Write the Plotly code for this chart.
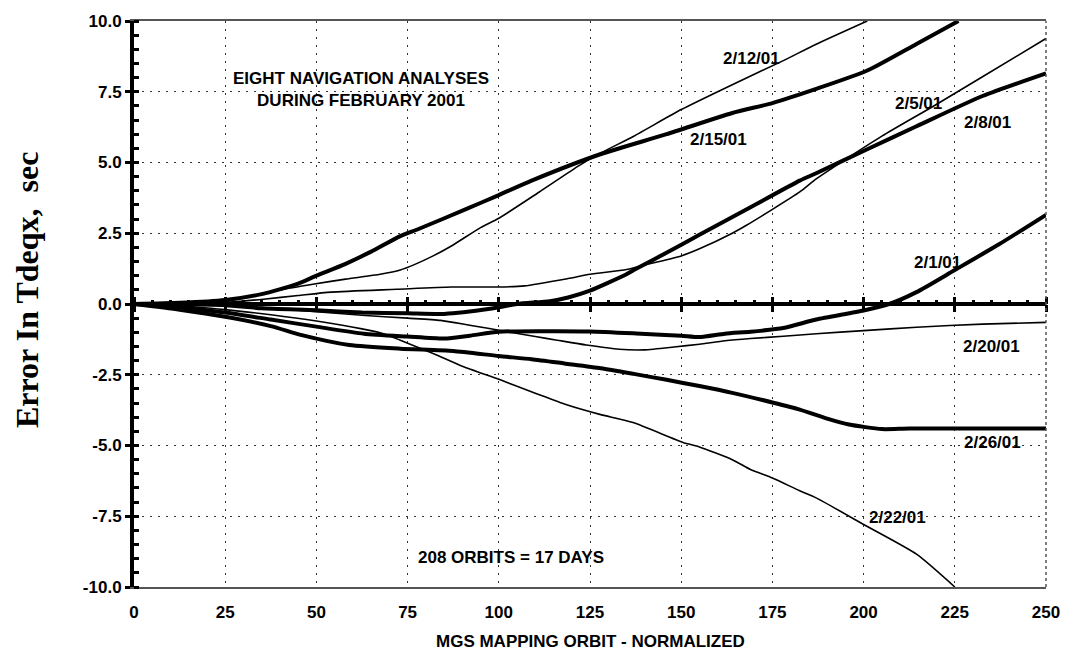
import plotly.graph_objects as go

# ---------------- data ----------------
X_TICKS = [0, 25, 50, 75, 100, 125, 150, 175, 200, 225, 250]
Y_TICKS = [-10, -7.5, -5, -2.5, 0, 2.5, 5, 7.5, 10]
Y_TICK_LABELS = ["-10.0", "-7.5", "-5.0", "-2.5", "0.0", "2.5", "5.0", "7.5", "10.0"]
X_RANGE = [0, 250]
Y_RANGE = [-10, 10]

# 2/15/01 (thick)
x_0215 = [0, 12.5, 25, 35, 45, 50, 58, 65, 73, 78, 91, 100, 109, 128, 146, 164, 175, 187, 201, 214.5, 226]
y_0215 = [0, 0.04, 0.14, 0.35, 0.72, 1.0, 1.42, 1.85, 2.4, 2.65, 3.35, 3.85, 4.36, 5.3, 6.0, 6.75, 7.1, 7.6, 8.25, 9.19, 10.0]
# 2/12/01 (thin)
x_0212 = [0, 12.5, 25, 31, 40, 49, 58, 67.5, 73, 77, 82, 87, 95, 100, 111, 122, 128, 137, 150, 164, 178, 187, 201]
y_0212 = [0, 0.02, 0.08, 0.25, 0.5, 0.7, 0.88, 1.05, 1.2, 1.4, 1.7, 2.05, 2.7, 3.03, 3.95, 4.89, 5.34, 5.93, 6.87, 7.75, 8.6, 9.18, 10.0]
# 2/5/01 (thin)
x_0205 = [0, 12.5, 25, 35.5, 45, 54, 72, 87, 100, 107, 119, 125, 135, 139, 150, 155, 164, 168, 182.5, 187, 205, 219, 232.6, 250]
y_0205 = [0, 0.01, 0.05, 0.17, 0.3, 0.42, 0.52, 0.6, 0.6, 0.64, 0.9, 1.05, 1.22, 1.35, 1.7, 1.95, 2.5, 2.79, 3.96, 4.42, 5.93, 6.98, 8.03, 9.38]
# 2/8/01 (thick)
x_0208 = [0, 12.5, 25, 35, 50, 62.5, 75, 85, 97.6, 105, 114, 119, 125, 135, 137, 148, 155, 169, 182.5, 187, 201, 214.5, 232.6, 250]
y_0208 = [0, -0.01, -0.04, -0.15, -0.22, -0.3, -0.33, -0.35, -0.17, 0.0, 0.1, 0.23, 0.47, 1.05, 1.2, 1.95, 2.45, 3.42, 4.36, 4.62, 5.47, 6.28, 7.35, 8.15]
# 2/1/01 (thick)
x_0201 = [0, 12.5, 25, 37.5, 50, 63, 75, 85, 92, 100, 112, 125, 139, 150, 155, 162, 169, 178, 187, 200, 207, 214.5, 225, 237, 250]
y_0201 = [0, -0.12, -0.3, -0.55, -0.8, -1.05, -1.15, -1.22, -1.12, -0.98, -0.96, -0.97, -1.05, -1.12, -1.17, -1.05, -0.98, -0.85, -0.55, -0.23, 0.0, 0.42, 1.2, 2.1, 3.15]
# 2/20/01 (thin)
x_0220 = [0, 12.5, 25, 40, 50, 62.5, 75, 84, 92, 102, 110, 116, 124, 133, 140, 148, 155, 162, 169, 178, 187, 200, 214.5, 232.6, 250]
y_0220 = [0, -0.01, -0.05, -0.17, -0.27, -0.4, -0.5, -0.58, -0.75, -0.97, -1.15, -1.28, -1.45, -1.6, -1.62, -1.52, -1.42, -1.3, -1.22, -1.14, -1.05, -0.94, -0.82, -0.71, -0.65]
# 2/26/01 (thick)
x_0226 = [0, 12.5, 25, 37.5, 46, 59, 73, 87.5, 100, 109, 118, 128, 137, 146, 155, 164, 175, 182.5, 190, 196, 205, 212.6, 250]
y_0226 = [0, -0.2, -0.45, -0.78, -1.1, -1.45, -1.58, -1.66, -1.84, -1.95, -2.1, -2.27, -2.47, -2.68, -2.9, -3.14, -3.48, -3.73, -4.05, -4.26, -4.42, -4.4, -4.4]
# 2/22/01 (thin)
x_0222 = [0, 12.5, 25, 37.5, 50, 62.5, 68.4, 73, 82, 90, 100.4, 110, 118.6, 127.7, 136.8, 150.5, 155, 164, 169, 175, 182.5, 187, 200, 214.5, 225]
y_0222 = [0, -0.06, -0.2, -0.38, -0.6, -0.88, -1.05, -1.28, -1.75, -2.2, -2.68, -3.15, -3.56, -3.9, -4.19, -4.89, -5.05, -5.5, -5.85, -6.15, -6.6, -6.85, -7.79, -8.84, -10.0]

LABELS = ["2/12/01", "2/15/01", "2/5/01", "2/8/01", "2/1/01", "2/20/01", "2/26/01", "2/22/01"]
LABEL_X = [169.2, 160.2, 215.1, 234.0, 220.2, 235.1, 235.2, 209.3]
LABEL_Y = [8.67, 5.81, 7.10, 6.42, 1.47, -1.50, -4.89, -7.56]

TITLE_NOTE = "EIGHT NAVIGATION ANALYSES<br>DURING FEBRUARY 2001"
NOTE_POS = (62.2, 7.58)
ORBIT_NOTE = "208 ORBITS = 17 DAYS"
ORBIT_POS = (103.4, -8.95)
X_TITLE = "MGS MAPPING ORBIT - NORMALIZED"
Y_TITLE = "Error In Tdeqx,  sec"

# ---------------- figure ----------------
SANS = "Liberation Sans, Arial, sans-serif"
SERIF = "Liberation Serif, Times New Roman, serif"
THICK, THIN = 4.0, 1.6
GRID_DASH = "2px,6px"

fig = go.Figure()
series = [
    ("2/15/01", x_0215, y_0215, THICK),
    ("2/12/01", x_0212, y_0212, THIN),
    ("2/5/01", x_0205, y_0205, THIN),
    ("2/8/01", x_0208, y_0208, THICK),
    ("2/1/01", x_0201, y_0201, THICK),
    ("2/20/01", x_0220, y_0220, THIN),
    ("2/26/01", x_0226, y_0226, THICK),
    ("2/22/01", x_0222, y_0222, THIN),
]
for name, xs, ys, w in series:
    fig.add_trace(go.Scatter(x=xs, y=ys, mode="lines", name=name,
                             line=dict(color="black", width=w, shape="spline", smoothing=0.6),
                             showlegend=False, hoverinfo="skip"))

# invisible helper traces so the extra tick axes are drawn
fig.add_trace(go.Scatter(x=X_RANGE, y=Y_RANGE, xaxis="x2", yaxis="y", mode="none",
                         showlegend=False, hoverinfo="skip"))
fig.add_trace(go.Scatter(x=X_RANGE, y=Y_RANGE, xaxis="x3", yaxis="y", mode="none",
                         showlegend=False, hoverinfo="skip"))
fig.add_trace(go.Scatter(x=X_RANGE, y=Y_RANGE, xaxis="x", yaxis="y2", mode="none",
                         showlegend=False, hoverinfo="skip"))

FS = 17
tickfont = dict(family=SANS, size=FS, color="black", weight="bold")

fig.update_layout(
    width=1072, height=655,
    margin=dict(l=134, r=25, t=13, b=68),
    paper_bgcolor="white", plot_bgcolor="white",
    showlegend=False,
    xaxis=dict(range=X_RANGE, tickvals=X_TICKS, ticks="", showgrid=True,
               gridcolor="#333", griddash=GRID_DASH, gridwidth=1,
               showline=True, linecolor="#555", linewidth=1.5, mirror=True,
               zeroline=False, tickfont=tickfont, ticklabelstandoff=9),
    xaxis2=dict(range=X_RANGE, overlaying="x", anchor="free", position=0.5, side="bottom",
                tickvals=X_TICKS, ticks="outside", ticklen=7, tickwidth=3, tickcolor="black",
                showticklabels=False, showgrid=False, zeroline=False, showline=False),
    xaxis3=dict(range=X_RANGE, overlaying="x", anchor="free", position=0.5, side="top",
                tickvals=X_TICKS, ticks="outside", ticklen=7, tickwidth=3, tickcolor="black",
                minor=dict(ticks="outside", ticklen=4, tickwidth=3, dtick=5, tickcolor="black"),
                showticklabels=False, showgrid=False, zeroline=False, showline=False),
    yaxis=dict(range=Y_RANGE, tickvals=Y_TICKS, ticktext=Y_TICK_LABELS,
               ticks="outside", ticklen=5, tickwidth=3, tickcolor="black",
               minor=dict(ticks="inside", ticklen=5, tickwidth=3, dtick=0.5,
                          tickcolor="black", showgrid=False),
               showgrid=True, gridcolor="#333", griddash=GRID_DASH, gridwidth=1,
               zeroline=True, zerolinecolor="black", zerolinewidth=3.5,
               showline=True, linecolor="black", linewidth=4,
               tickfont=tickfont),
    yaxis2=dict(range=Y_RANGE, overlaying="y", anchor="x", side="left",
                tickvals=Y_TICKS, ticks="inside", ticklen=5, tickwidth=3, tickcolor="black",
                showticklabels=False, showgrid=False, zeroline=False, showline=False),
)

# right border (dotted)
fig.add_shape(type="line", xref="paper", yref="paper", x0=1, x1=1, y0=0, y1=1,
              line=dict(color="#555", width=1.5, dash="dot"))

labfont = dict(family=SANS, size=FS, color="black", weight="bold")
for t, lx, ly in zip(LABELS, LABEL_X, LABEL_Y):
    fig.add_annotation(x=lx, y=ly, text=t, showarrow=False, font=labfont,
                       xanchor="center", yanchor="middle")

fig.add_annotation(x=NOTE_POS[0], y=NOTE_POS[1], text=TITLE_NOTE, showarrow=False,
                   font=labfont, align="center", xanchor="center", yanchor="middle")
fig.add_annotation(x=ORBIT_POS[0], y=ORBIT_POS[1], text=ORBIT_NOTE, showarrow=False,
                   font=labfont, xanchor="center", yanchor="middle")

fig.add_annotation(xref="paper", yref="paper", x=0.5, y=-0.097, text=X_TITLE,
                   showarrow=False, font=labfont, xanchor="center", yanchor="middle")
fig.add_annotation(xref="paper", yref="paper", x=-0.1166, y=0.524, text=Y_TITLE,
                   showarrow=False, textangle=-90,
                   font=dict(family=SERIF, size=32, color="black", weight="bold"),
                   xanchor="center", yanchor="middle")

fig.write_html("out.html")
